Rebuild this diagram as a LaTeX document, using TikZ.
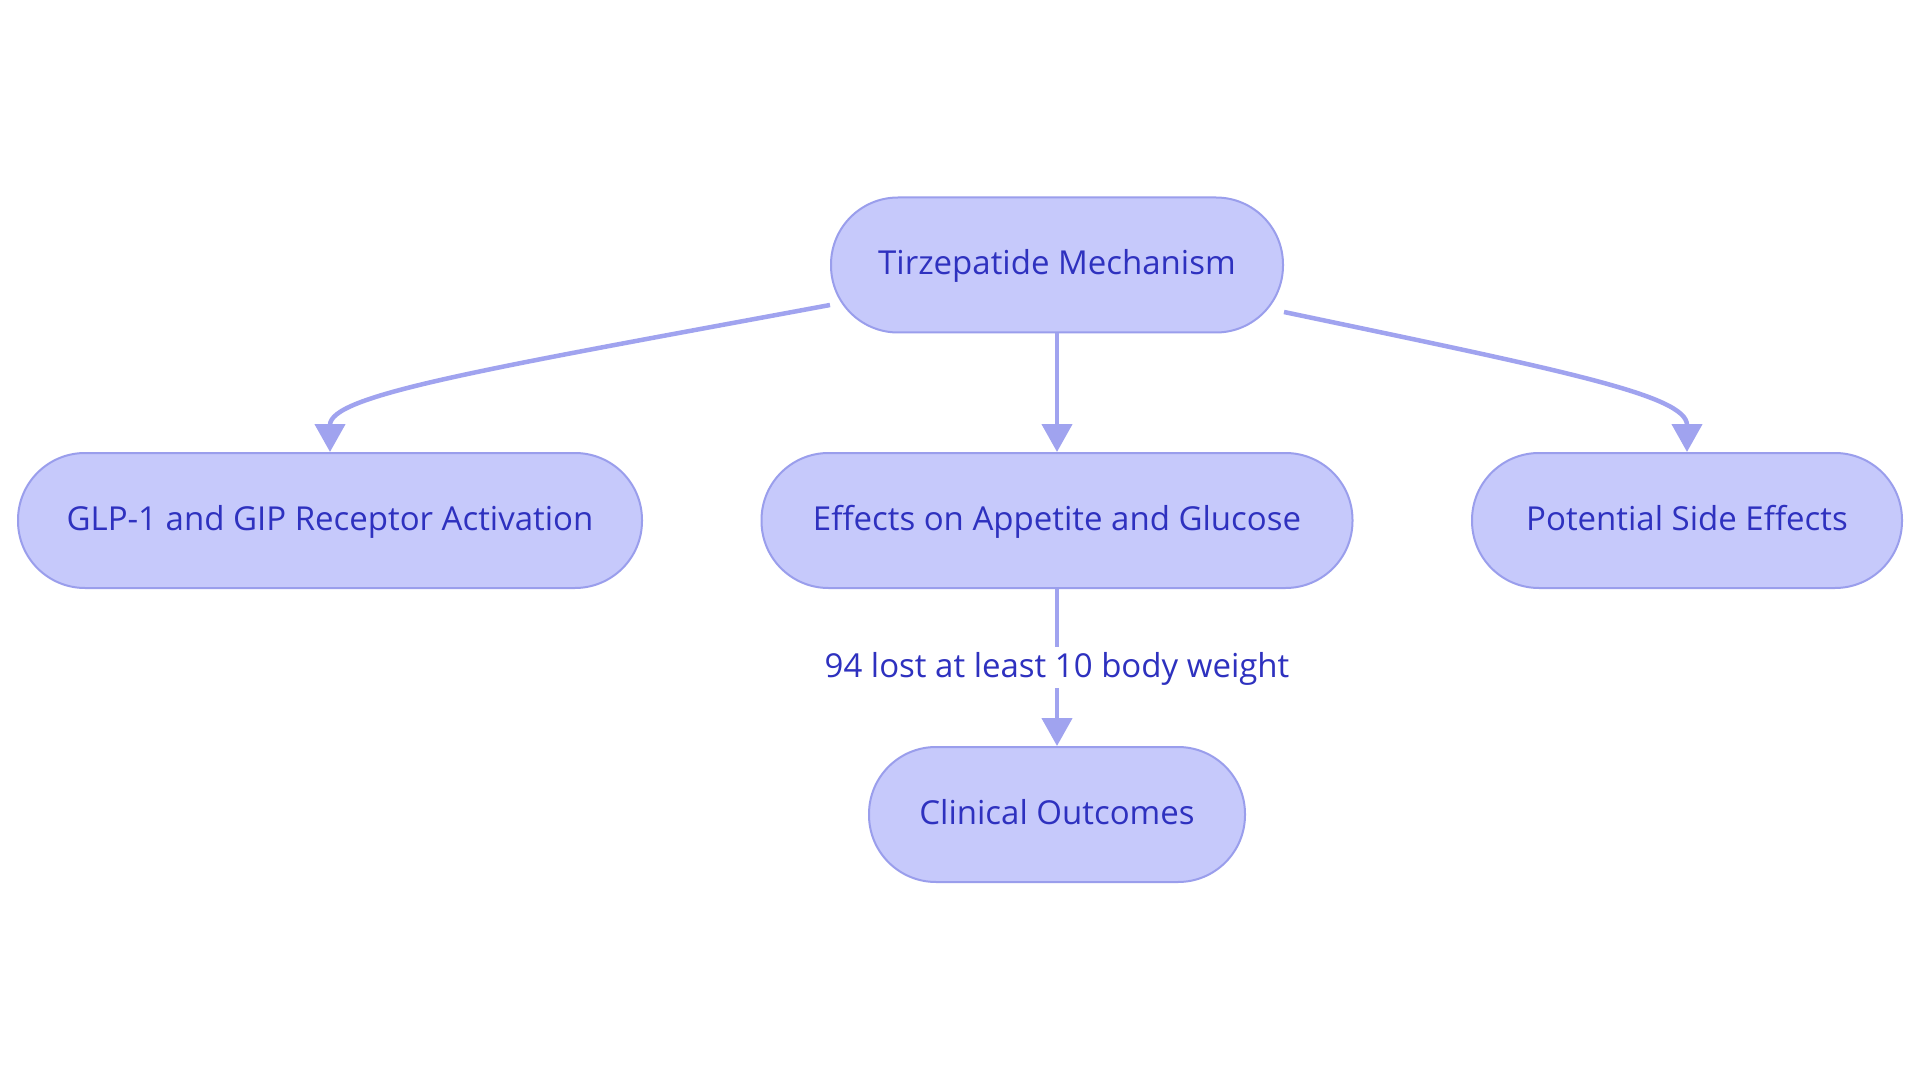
\documentclass[tikz,border=0pt]{standalone}
\usepackage{fontspec}
\setmainfont{Open Sans}
\usetikzlibrary{arrows.meta}
\definecolor{nodefill}{HTML}{C6C9FB}
\definecolor{nodedraw}{HTML}{9A9EEC}
\definecolor{edgecol}{HTML}{A0A3EF}
\definecolor{txt}{HTML}{2E31BF}
\begin{document}
\begin{tikzpicture}[x=1pt,y=1pt,
  box/.style={draw=nodedraw, line width=2pt, fill=nodefill, rounded corners=67pt,
    minimum height=135pt, inner sep=0pt, text height=28pt, text depth=8pt,
    text=txt, font=\fontsize{33}{40}\selectfont},
  link/.style={draw=edgecol, line width=4.5pt, -{Triangle[length=28pt,width=30pt]}},
  lbl/.style={fill=white, text=txt, inner sep=3pt, text height=27pt, text depth=8pt,
    font=\fontsize{33}{40}\selectfont}]
\useasboundingbox (0,0) rectangle (1920,-1083);
\fill[white] (0,0) rectangle (1920,-1083);
\node[box, minimum width=452pt] (top) at (1057,-265) {Tirzepatide Mechanism};
\node[box, minimum width=624pt] (left) at (330,-520.5) {GLP-1 and GIP Receptor Activation};
\node[box, minimum width=591pt] (mid) at (1057,-520.5) {Effects on Appetite and Glucose};
\node[box, minimum width=430pt] (right) at (1687,-520.5) {Potential Side Effects};
\node[box, minimum width=376pt] (bot) at (1057,-814.5) {Clinical Outcomes};
\draw[link] ([yshift=-40pt]top.west) .. controls (480,-370) and (330,-395) .. (left.north);
\draw[link] ([yshift=-47pt]top.east) .. controls (1560,-370) and (1687,-395) .. (right.north);
\draw[link] (top) -- (mid);
\draw[link] (mid) -- node[lbl] {94 lost at least 10 body weight} (bot);
\end{tikzpicture}
\end{document}
